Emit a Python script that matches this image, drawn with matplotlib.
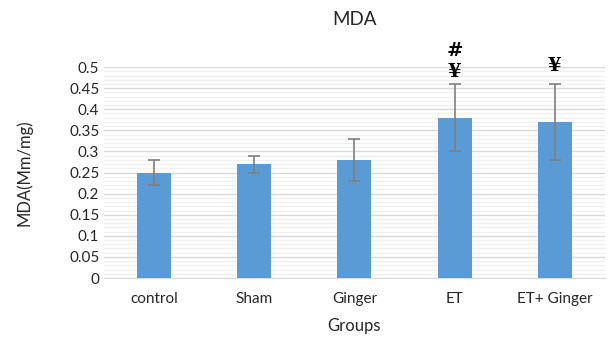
import numpy as np
import matplotlib.pyplot as plt

# data
groups = ["control", "Sham", "Ginger", "ET", "ET+ Ginger"]
mda = [0.25, 0.27, 0.28, 0.38, 0.37]
err = [0.03, 0.02, 0.05, 0.08, 0.09]
marks = ["", "", "", "#\n¥", "¥"]

plt.rcParams["font.family"] = ["Lato", "DejaVu Sans"]

fig = plt.figure(figsize=(6.09, 3.37), dpi=100)
ax = fig.add_axes([0.171, 0.175, 0.822, 0.626])

x = np.arange(len(groups))
ax.bar(x, mda, width=0.34, color="#5b9bd5", zorder=3)
ax.errorbar(x, mda, yerr=err, fmt="none", ecolor="#7f7f7f", elinewidth=1.2,
            capsize=4, capthick=1.2, zorder=4)

# significance marks above the error bars
for xi, v, e, m in zip(x, mda, err, marks):
    if m:
        off = 0.008 if "#" in m else 0.022
        ax.text(xi, v + e + off, m, ha="center", va="bottom", fontsize=14,
                fontweight="bold", family="DejaVu Serif", linespacing=1.15)

ax.set_xlim(-0.5, len(groups) - 0.5)
ax.set_ylim(0, 0.5)
ax.set_yticks(np.arange(0, 0.51, 0.05))
ax.set_yticklabels(["0", "0.05", "0.1", "0.15", "0.2", "0.25", "0.3", "0.35",
                    "0.4", "0.45", "0.5"])
ax.set_yticks(np.arange(0, 0.501, 0.01), minor=True)
ax.set_xticks(x)
ax.set_xticklabels(groups)

ax.grid(axis="y", which="major", color="#d9d9d9", linewidth=1, zorder=0)
ax.grid(axis="y", which="minor", color="#f0f0f0", linewidth=1, zorder=0)
for s in ["top", "right", "left"]:
    ax.spines[s].set_visible(False)
ax.spines["bottom"].set_color("#d9d9d9")
ax.tick_params(axis="both", which="both", length=0, labelsize=11, colors="#262626")
ax.tick_params(axis="x", pad=10)

ax.set_title("MDA", fontsize=13.5, color="#262626", pad=30)
ax.set_ylabel("MDA(Mm/mg)", fontsize=12, color="#262626", labelpad=26)
ax.set_xlabel("Groups", fontsize=12, color="#262626", labelpad=9)

fig.savefig("out.png", dpi=100)
